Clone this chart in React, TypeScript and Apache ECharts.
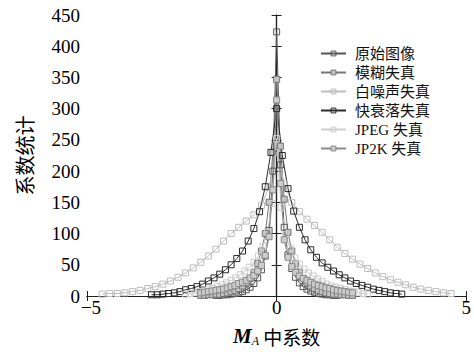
import React, { useEffect, useRef } from "react";
import * as echarts from "echarts";

const seriesNames = ["原始图像", "模糊失真", "白噪声失真", "快衰落失真", "JPEG 失真", "JP2K 失真"];
const lineColors = ["#555555", "#767676", "#bdbdbd", "#2a2a2a", "#cccccc", "#8a8a8a"];
const fillColors = ["rgba(255,255,255,0)", "#c4c4c4", "rgba(255,255,255,0)", "rgba(255,255,255,0)", "rgba(255,255,255,0)", "#cdcdcd"];

// x grid of each series: start and step
const xStarts = [-1.6, -2.0, -4.6, -3.3, -2.4, -2.0];
const xSteps = [0.1, 0.1, 0.2, 0.15, 0.12, 0.1];

const originalVals = [1, 1, 2, 2, 3, 4, 5, 7, 10, 14, 20, 29, 42, 64, 105, 200, 423, 210, 110, 66, 44, 30, 21, 15, 11, 8, 6, 4, 3, 2, 2, 1, 1];
const blurVals = [1, 1, 2, 2, 3, 3, 4, 5, 7, 9, 12, 16, 21, 28, 38, 52, 72, 100, 150, 230, 347, 240, 155, 102, 72, 52, 38, 28, 21, 16, 12, 9, 7, 5, 4, 3, 3, 2, 2, 1, 1];
const noiseVals = [3, 4, 4, 5, 7, 9, 12, 15, 19, 24, 30, 37, 45, 54, 64, 75, 88, 100, 110, 120, 130, 145, 175, 230, 180, 150, 135, 123, 113, 102, 90, 78, 68, 59, 51, 44, 37, 31, 26, 22, 18, 14, 11, 9, 7, 5, 4];
const fadingVals = [2, 2, 3, 4, 5, 7, 10, 12, 15, 19, 24, 29, 35, 42, 50, 60, 72, 88, 108, 135, 175, 230, 300, 225, 172, 136, 110, 90, 74, 62, 53, 46, 40, 34, 29, 24, 20, 17, 14, 11, 9, 7, 5, 4, 3];
const jpegVals = [3, 4, 5, 7, 8, 10, 12, 15, 18, 21, 25, 29, 34, 40, 46, 54, 64, 80, 102, 148, 252, 142, 98, 76, 61, 51, 43, 37, 32, 27, 23, 19, 16, 14, 12, 10, 8, 7, 5, 4, 3];
const jp2kVals = [5, 6, 7, 8, 9, 10, 11, 13, 15, 17, 20, 22, 25, 29, 33, 40, 49, 65, 95, 170, 314, 180, 90, 62, 47, 38, 32, 28, 25, 22, 19, 17, 15, 13, 12, 10, 9, 8, 7, 6, 5];

const allVals = [originalVals, blurVals, noiseVals, fadingVals, jpegVals, jp2kVals];

const xTicks = [-5, 0, 5];
const yMin = 0;
const yMax = 450;
const yInterval = 50;

const serif = "'Liberation Serif', 'Times New Roman', serif";
const cjk = "'Liberation Serif', 'Noto Sans CJK SC', serif";

export default function App() {
  const ref = useRef<HTMLDivElement>(null);
  useEffect(() => {
    if (!ref.current) return;
    const chart = echarts.init(ref.current, undefined, { renderer: "svg" });
    const series = allVals.map((vals, k) => ({
      name: seriesNames[k],
      type: "line",
      data: vals.map((v, i) => [+(xStarts[k] + i * xSteps[k]).toFixed(3), v]),
      symbol: "rect",
      symbolSize: 6,
      lineStyle: { color: lineColors[k], width: 1 },
      itemStyle: { color: fillColors[k], borderColor: lineColors[k], borderWidth: 1 },
      emphasis: { disabled: true },
    }));
    const axisLine = { show: true, lineStyle: { color: "#222", width: 1.2 } };
    chart.setOption({
      animation: false,
      backgroundColor: "#fff",
      grid: { left: 87, right: 4, top: 15, bottom: 55 },
      legend: {
        orient: "vertical",
        left: 315,
        top: 41,
        itemWidth: 25,
        itemHeight: 6,
        itemGap: 4,
        itemStyle: { borderWidth: 1 },
        textStyle: { fontFamily: cjk, fontSize: 15, color: "#111", lineHeight: 13.5, padding: [0, 0, 0, 4] },
      },
      xAxis: [
        {
          type: "value",
          min: xTicks[0],
          max: xTicks[xTicks.length - 1],
          interval: 5,
          axisLine,
          axisTick: { show: true, inside: true, length: 5, lineStyle: { color: "#222" } },
          splitLine: { show: false },
          axisLabel: {
            fontFamily: serif,
            fontSize: 19,
            color: "#000",
            margin: 6,
            lineHeight: 10,
            formatter: (v: number) => {
              const s = String(v).replace("-", "\u2212");
              return v === xTicks[0] ? `{lo|${s}}` : s;
            },
            rich: {
              lo: { fontFamily: serif, fontSize: 19, color: "#000", lineHeight: 10, padding: [0, 0, 0, 8] },
            },
          },
          name: "{m|M}{a|A}{t| 中系数}",
          nameLocation: "middle",
          nameGap: 29,
          nameTextStyle: {
            rich: {
              m: { fontFamily: serif, fontStyle: "italic", fontWeight: "bold", fontSize: 21, color: "#000" },
              a: { fontFamily: serif, fontStyle: "italic", fontSize: 12, color: "#000", padding: [10, 0, 0, 0] },
              t: { fontFamily: "'Noto Sans CJK SC'", fontSize: 19, color: "#000" },
            },
          },
        },
        {
          type: "value",
          position: "top",
          min: xTicks[0],
          max: xTicks[xTicks.length - 1],
          interval: 5,
          axisLine,
          axisTick: { show: true, inside: true, length: 5, lineStyle: { color: "#222" } },
          axisLabel: { show: false },
          splitLine: { show: false },
        },
      ],
      yAxis: [
        {
          type: "value",
          min: yMin,
          max: yMax,
          interval: yInterval,
          axisLine,
          axisTick: { show: true, inside: true, length: 5, lineStyle: { color: "#222" } },
          splitLine: { show: false },
          axisLabel: { fontFamily: serif, fontSize: 19, color: "#000", margin: 7, lineHeight: 10 },
          name: "系数统计",
          nameLocation: "middle",
          nameRotate: 90,
          nameGap: 53,
          nameTextStyle: { fontFamily: "'Noto Sans CJK SC'", fontSize: 20, color: "#000" },
        },
        {
          type: "value",
          position: "right",
          min: yMin,
          max: yMax,
          interval: yInterval,
          axisLine,
          axisTick: { show: true, inside: true, length: 5, lineStyle: { color: "#222" } },
          axisLabel: { show: false },
          splitLine: { show: false },
        },
      ],
      series,
    });
    return () => chart.dispose();
  }, []);
  return (
    <div
      ref={ref}
      style={{ position: "fixed", left: 0, top: 0, width: 474, height: 352 }}
    />
  );
}
